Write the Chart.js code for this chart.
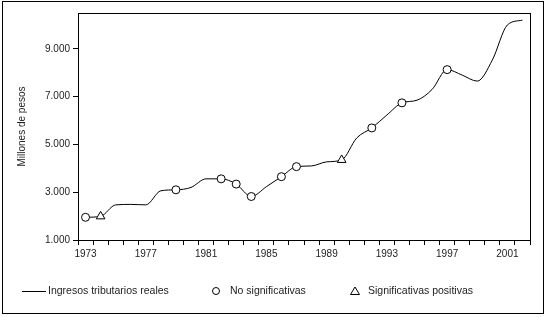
<!DOCTYPE html>
<html><head><meta charset="utf-8">
<script src="https://cdn.jsdelivr.net/npm/chart.js@4/dist/chart.umd.min.js"></script>
<style>html,body{margin:0;padding:0;background:#fff;} #wrap{width:546px;height:317px;position:relative;}</style>
</head><body><div id="wrap"><canvas id="c" width="546" height="317"></canvas></div>
<script>
// Categories (years)
const years = [1973,1974,1975,1976,1977,1978,1979,1980,1981,1982,1983,1984,1985,1986,1987,1988,1989,1990,1991,1992,1993,1994,1995,1996,1997,1998,1999,2000,2001,2002];
// Ingresos tributarios reales (millones de pesos)
const ingresos = [1950,1990,2470,2490,2470,3060,3100,3200,3560,3560,3340,2820,3230,3650,4070,4100,4270,4350,5270,5690,6230,6740,6850,7300,8130,7900,7650,8530,10000,10200];
// Years with markers
const noSignifYears = [1973,1979,1982,1983,1984,1986,1987,1992,1994,1997];
const signifPosYears = [1974,1990];
// Tick labels
const yTicks = [1000,3000,5000,7000,9000];
const xLabelYears = [1973,1977,1981,1985,1989,1993,1997,2001];
const seriesLabels = ['Ingresos tributarios reales','No significativas','Significativas positivas'];

const markerData = (list) => years.map((y,i) => list.includes(y) ? ingresos[i] : null);
const fmt = v => String(v).replace(/\B(?=(\d{3})+(?!\d))/g, '.');

Chart.defaults.font.family = "'Liberation Sans', Arial, sans-serif";
Chart.defaults.font.size = 10;
Chart.defaults.color = '#222';

const framePlugin = {
  id: 'frames',
  afterDraw(chart) {
    const ctx = chart.ctx, a = chart.chartArea;
    ctx.save();
    ctx.strokeStyle = '#000';
    ctx.lineWidth = 1;
    ctx.strokeRect(2.5, 1.5, 541, 312);
    ctx.strokeRect(Math.round(a.left)+0.5, Math.round(a.top)+0.5, Math.round(a.right-a.left), Math.round(a.bottom-a.top));
    // legend
    const ly = 291;
    ctx.font = "10.5px 'Liberation Sans', Arial, sans-serif";
    ctx.fillStyle = '#222';
    ctx.textBaseline = 'middle';
    ctx.beginPath(); ctx.moveTo(22, ly+0.5); ctx.lineTo(46, ly+0.5); ctx.stroke();
    ctx.fillText(seriesLabels[0], 48, ly);
    ctx.beginPath(); ctx.arc(216, ly, 3.5, 0, Math.PI*2); ctx.fillStyle='#fff'; ctx.fill(); ctx.stroke();
    ctx.fillStyle = '#222';
    ctx.fillText(seriesLabels[1], 230, ly);
    ctx.beginPath(); ctx.moveTo(355, ly-4); ctx.lineTo(359.5, ly+3.5); ctx.lineTo(350.5, ly+3.5); ctx.closePath(); ctx.stroke();
    ctx.fillText(seriesLabels[2], 368, ly);
    ctx.restore();
  }
};

new Chart(document.getElementById('c'), {
  type: 'line',
  data: {
    labels: years.map(String),
    datasets: [
      { label: seriesLabels[0], data: ingresos, borderColor: '#000', borderWidth: 1, pointRadius: 0, cubicInterpolationMode: 'monotone', fill: false, order: 3 },
      { label: seriesLabels[1], data: markerData(noSignifYears), showLine: false, pointStyle: 'circle', pointRadius: 4, pointBackgroundColor: '#fff', pointBorderColor: '#000', pointBorderWidth: 1, order: 1 },
      { label: seriesLabels[2], data: markerData(signifPosYears), showLine: false, pointStyle: 'triangle', pointRadius: 5, pointBackgroundColor: '#fff', pointBorderColor: '#000', pointBorderWidth: 1, order: 2 }
    ]
  },
  options: {
    responsive: false,
    devicePixelRatio: 1,
    animation: false,
    layout: { padding: { left: 0, top: 13, right: 16, bottom: 0 } },
    plugins: { legend: { display: false }, tooltip: { enabled: false } },
    scales: {
      x: {
        type: 'category', offset: true,
        grid: { offset: true, drawOnChartArea: false, drawTicks: true, tickLength: 5, color: '#000' },
        border: { color: '#000' },
        ticks: { autoSkip: false, maxRotation: 0, padding: 3, color: '#222',
          callback: function(v, i) { const yr = years[i]; return xLabelYears.includes(yr) ? String(yr) : ''; } },
        afterFit: s => { s.height = 77; }
      },
      y: {
        type: 'linear', min: 1000, max: 10500,
        afterBuildTicks: s => { s.ticks = yTicks.map(v => ({ value: v })); },
        afterFit: s => { s.width = 78; },
        grid: { drawOnChartArea: false, drawTicks: true, tickLength: 5, color: '#000' },
        border: { color: '#000' },
        ticks: { padding: 3, color: '#222', callback: v => fmt(v) },
        title: { display: true, text: 'Millones de pesos', color: '#222', padding: { top: 16, bottom: 0 }, font: { size: 10 } }
      }
    }
  },
  plugins: [framePlugin]
});
</script></body></html>
